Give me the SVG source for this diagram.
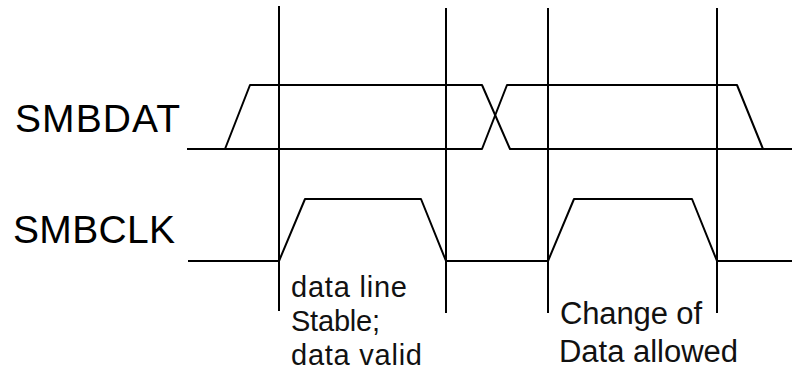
<svg xmlns="http://www.w3.org/2000/svg" width="792" height="381" viewBox="0 0 792 381">
<style>
.sig{fill:none;stroke:#000;stroke-width:2;stroke-linejoin:round}
.mark{fill:none;stroke:#000;stroke-width:2}
.lbl{font-family:"Liberation Sans",Arial,sans-serif;font-size:39px;fill:#000}
.note{font-family:"Liberation Sans",Arial,sans-serif;font-size:29px;fill:#111}
.note2{font-family:"Liberation Sans",Arial,sans-serif;font-size:31px;fill:#111}
</style>
<rect width="792" height="381" fill="#fff"/>
<g id="markers">
<line class="mark" x1="279" y1="6" x2="279" y2="311"/>
<line class="mark" x1="446" y1="8" x2="446" y2="313"/>
<line class="mark" x1="548" y1="8" x2="548" y2="313"/>
<line class="mark" x1="717" y1="8" x2="717" y2="313"/>
</g>
<g id="smbdat">
<text class="lbl" x="15" y="131.5" textLength="165" lengthAdjust="spacing">SMBDAT</text>
<path class="sig" d="M187,149 H225 L250,85 H482 L510,149 H792"/>
<path class="sig" d="M225,149 H482 L507,85 H737 L763,149"/>
</g>
<g id="smbclk">
<text class="lbl" x="13" y="243" textLength="162" lengthAdjust="spacing">SMBCLK</text>
<path class="sig" d="M188,261 H279 L305,199 H421 L446,261 H548 L574,199 H692 L717,261 H792"/>
</g>
<g id="note-stable">
<text class="note" x="291" y="297" textLength="116" lengthAdjust="spacing">data line</text>
<text class="note" x="291" y="331" textLength="89" lengthAdjust="spacing">Stable;</text>
<text class="note" x="291" y="365" textLength="131" lengthAdjust="spacing">data valid</text>
</g>
<g id="note-change">
<text class="note2" x="560" y="324" textLength="142" lengthAdjust="spacing">Change of</text>
<text class="note2" x="559" y="362" textLength="179" lengthAdjust="spacing">Data allowed</text>
</g>
</svg>
